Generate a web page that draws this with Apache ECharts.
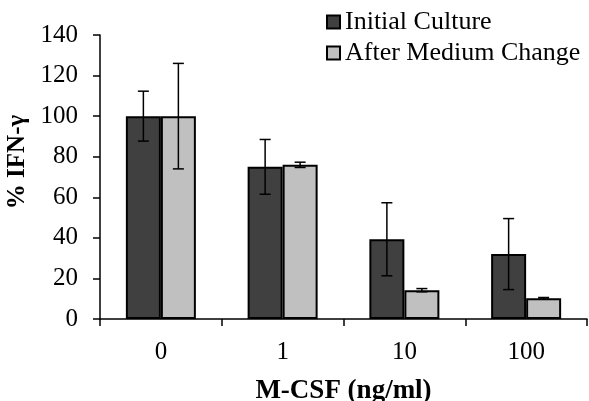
<!DOCTYPE html>
<html>
<head>
<meta charset="utf-8">
<script src="https://cdn.jsdelivr.net/npm/echarts@6/dist/echarts.min.js"></script>
<style>html,body{margin:0;padding:0;background:#fff;}#c{width:589px;height:401px;}</style>
</head>
<body>
<div id="c"></div>
<script>
var categories = ['0', '1', '10', '100'];
var initialCulture = [100, 75, 39.3, 32];
var initialErr = [12.3, 13.5, 18, 17.5];
var afterChange = [100, 76, 14.2, 10.2];
var afterErr = [26, 1.3, 0.8, 0.4];
var yTicks = [0, 20, 40, 60, 80, 100, 120, 140];

var FONT = 'Liberation Serif';
var BAR_W = 35;

function errSeries(vals, errs, side) {
  return {
    type: 'custom',
    z: 10,
    silent: true,
    data: vals.map(function (v, i) { return [i, v, errs[i]]; }),
    renderItem: function (params, api) {
      var i = api.value(0), v = api.value(1), e = api.value(2);
      var top = api.coord([i, v + e]);
      var bot = api.coord([i, v - e]);
      var x = top[0] + side * BAR_W / 2;
      var hw = 5.5;
      var st = { stroke: '#000', lineWidth: 1.5 };
      return {
        type: 'group',
        children: [
          { type: 'line', shape: { x1: x, y1: top[1], x2: x, y2: bot[1] }, style: st },
          { type: 'line', shape: { x1: x - hw, y1: top[1], x2: x + hw, y2: top[1] }, style: st },
          { type: 'line', shape: { x1: x - hw, y1: bot[1], x2: x + hw, y2: bot[1] }, style: st }
        ]
      };
    }
  };
}

var chart = echarts.init(document.getElementById('c'));
chart.setOption({
  animation: false,
  backgroundColor: '#fff',
  grid: { left: 100, right: 2, top: 35, bottom: 82, containLabel: false, outerBoundsMode: 'none' },
  legend: {
    orient: 'vertical',
    left: 321,
    top: 4,
    itemWidth: 13,
    itemHeight: 13,
    itemGap: 5,
    icon: 'rect',
    data: ['Initial Culture', 'After Medium Change'],
    textStyle: { fontFamily: FONT, fontSize: 26, color: '#000' }
  },
  xAxis: {
    type: 'category',
    data: categories,
    axisLine: { lineStyle: { color: '#000', width: 1.5 } },
    axisTick: { show: true, length: 7, lineStyle: { color: '#000', width: 1.5 } },
    axisLabel: { fontFamily: FONT, fontSize: 25, color: '#000', margin: 21 },
    name: 'M-CSF (ng/ml)',
    nameLocation: 'middle',
    nameGap: 59,
    nameTextStyle: { fontFamily: FONT, fontSize: 27, fontWeight: 'bold', color: '#000', verticalAlign: 'top' }
  },
  yAxis: {
    type: 'value',
    min: yTicks[0],
    max: yTicks[yTicks.length - 1],
    interval: 20,
    splitLine: { show: false },
    axisLine: { show: true, lineStyle: { color: '#000', width: 1.5 } },
    axisTick: { show: true, length: 7, lineStyle: { color: '#000', width: 1.5 } },
    axisLabel: { fontFamily: FONT, fontSize: 25, color: '#000', margin: 22 },
    name: '% IFN-γ',
    nameLocation: 'middle',
    nameGap: 70,
    nameTextStyle: { fontFamily: FONT, fontSize: 25, fontWeight: 'bold', color: '#000', padding: [0, 0, 0, 30] }
  },
  series: [
    {
      name: 'Initial Culture',
      type: 'bar',
      data: initialCulture,
      barWidth: BAR_W,
      barGap: '0%',
      itemStyle: { color: '#404040', borderColor: '#000', borderWidth: 2 }
    },
    {
      name: 'After Medium Change',
      type: 'bar',
      data: afterChange,
      barWidth: BAR_W,
      barGap: '0%',
      itemStyle: { color: '#c0c0c0', borderColor: '#000', borderWidth: 2 }
    },
    errSeries(initialCulture, initialErr, -1),
    errSeries(afterChange, afterErr, 1)
  ]
});
</script>
</body>
</html>
